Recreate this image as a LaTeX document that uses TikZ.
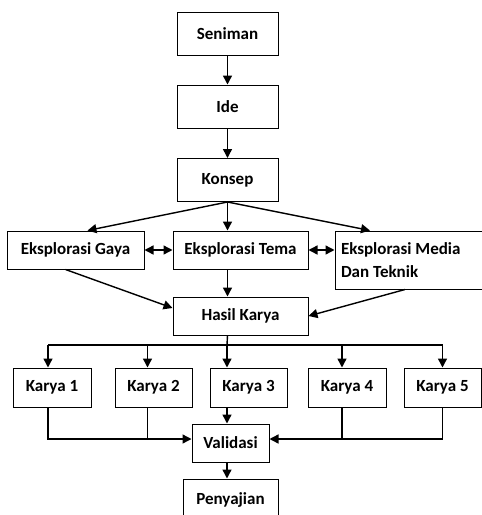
\documentclass[tikz,border=0pt]{standalone}
\usepackage{fontspec}
\setmainfont{Carlito}
\usetikzlibrary{arrows.meta}

\begin{document}
\begin{tikzpicture}[x=1pt,y=-1pt,
    >={Triangle[length=9pt,width=9pt]},
    kotak/.style={draw, line width=1pt, font=\bfseries\fontsize{17}{23}\selectfont, inner sep=0pt},
    panah/.style={->, line width=1.4pt}]
		\useasboundingbox (0,0) rectangle (482,515);
		\node[kotak, minimum width=101, minimum height=43] (seniman) at (227.5,33.5) {Seniman};
		\node[kotak, minimum width=101, minimum height=43] (ide) at (227.5,106.5) {Ide};
		\node[kotak, minimum width=101, minimum height=43] (konsep) at (227.5,180) {Konsep};
		\node[kotak, minimum width=137, minimum height=38] (gaya) at (75.5,250) {Eksplorasi Gaya};
		\node[kotak, minimum width=135, minimum height=38] (tema) at (240.5,250) {Eksplorasi Tema};
		\node[kotak, minimum width=160, minimum height=58, align=flush left, text width=148, inner xsep=6pt] (media) at (415,260) {Eksplorasi Media\\Dan Teknik};
		\node[kotak, minimum width=135, minimum height=38] (hasil) at (240.5,316) {Hasil Karya};
		\node[kotak, minimum width=78, minimum height=39] (karya1) at (52,387.5) {Karya 1};
		\node[kotak, minimum width=77, minimum height=39] (karya2) at (153.5,387.5) {Karya 2};
		\node[kotak, minimum width=77, minimum height=39] (karya3) at (248.5,387.5) {Karya 3};
		\node[kotak, minimum width=78, minimum height=39] (karya4) at (347,387.5) {Karya 4};
		\node[kotak, minimum width=77, minimum height=39] (karya5) at (442.5,387.5) {Karya 5};
		\node[kotak, minimum width=77, minimum height=38] (validasi) at (230.5,443) {Validasi};
		\node[kotak, minimum width=95, minimum height=42] (penyajian) at (230.5,500) {Penyajian};
		\coordinate (bus) at (227,345);
		\coordinate (simpul) at (227,439);
		\draw[panah] (seniman) -- (ide);
		\draw[panah] (ide) -- (konsep);
		\draw[panah] (konsep.south) -- ([xshift=12]gaya.north);
		\draw[panah] (konsep.south) -- (konsep.south |- tema.north);
		\draw[panah] (konsep.south) -- ([xshift=-45]media.north);
		\draw[panah, <->] (gaya.east) -- (tema.west);
		\draw[panah, <->] (tema.east) -- (tema.east -| media.west);
		\draw[panah] (konsep.south |- tema.south) -- (konsep.south |- hasil.north);
		\draw[panah] ([xshift=-10]gaya.south) -- ([yshift=8]hasil.west);
		\draw[panah] ([xshift=-10]media.south) -- (hasil.east);
		\draw[line width=1.4pt] (konsep.south |- hasil.south) -- (bus);
		\draw[line width=1.4pt] ([xshift=-4]karya1.north |- bus) -- (karya5.north |- bus);
		\draw[panah] ([xshift=-4]karya1.north |- bus) -- ([xshift=-4]karya1.north);
		\draw[panah] ([xshift=-6]karya2.north |- bus) -- ([xshift=-6]karya2.north);
		\draw[panah] (bus) -- (bus |- karya3.north);
		\draw[panah] ([xshift=-5]karya4.north |- bus) -- ([xshift=-5]karya4.north);
		\draw[panah] (karya5.north |- bus) -- (karya5.north);
		\draw[panah] ([xshift=-4]karya1.south) |- (validasi.west |- simpul);
		\draw[line width=1.4pt] ([xshift=-6]karya2.south) -- ([xshift=-6]karya2.south |- simpul);
		\draw[panah] (bus |- karya3.south) -- (bus |- validasi.north);
		\draw[line width=1.4pt] ([xshift=-5]karya4.south) -- ([xshift=-5]karya4.south |- simpul);
		\draw[panah] (karya5.south) |- (validasi.east |- simpul);
		\draw[panah] (bus |- validasi.south) -- (bus |- penyajian.north);
\end{tikzpicture}
\end{document}
